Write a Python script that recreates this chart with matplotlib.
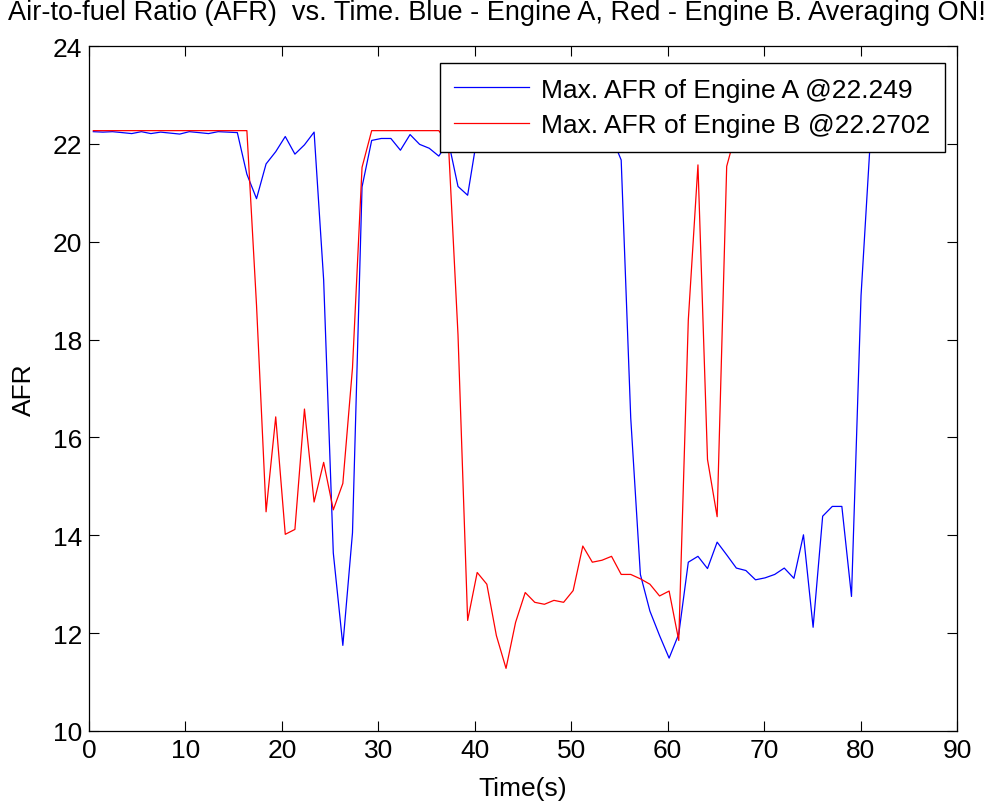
import numpy as np
import matplotlib
matplotlib.use("Agg")
import matplotlib.pyplot as plt

plt.rcParams['font.family'] = ['Liberation Sans', 'DejaVu Sans']

# sample times (s), roughly one sample per second
time_s = [0.45, 1.44, 2.44, 3.44, 4.43, 5.43, 6.42, 7.42, 8.41, 9.41,
          10.40, 11.40, 12.39, 13.39, 14.38, 15.38, 16.37, 17.37, 18.36, 19.36,
          20.35, 21.35, 22.34, 23.34, 24.33, 25.33, 26.32, 27.32, 28.31, 29.31,
          30.30, 31.30, 32.29, 33.29, 34.28, 35.28, 36.27, 37.27, 38.26, 39.26,
          40.25, 41.25, 42.24, 43.24, 44.23, 45.23, 46.22, 47.22, 48.21, 49.21,
          50.20, 51.20, 52.19, 53.19, 54.18, 55.18, 56.17, 57.17, 58.16, 59.16,
          60.15, 61.15, 62.14, 63.14, 64.13, 65.13, 66.12, 67.12, 68.11, 69.11,
          70.10, 71.10, 72.09, 73.09, 74.08, 75.08, 76.07, 77.07, 78.06, 79.06,
          80.05, 81.05]

# engine A air-to-fuel ratio
afr_a = [22.249, 22.24, 22.249, 22.23, 22.21, 22.249, 22.21, 22.24, 22.22, 22.20,
         22.249, 22.23, 22.21, 22.249, 22.24, 22.23, 21.38, 20.88, 21.59, 21.84,
         22.15, 21.79, 21.98, 22.24, 19.22, 13.64, 11.75, 14.05, 21.12, 22.07,
         22.11, 22.11, 21.87, 22.19, 21.99, 21.91, 21.75, 22.05, 21.13, 20.95,
         22.15, 22.20, 22.23, 22.21, 22.24, 22.19, 22.22, 22.249, 22.20, 22.23,
         22.18, 22.22, 22.24, 22.21, 22.15, 21.67, 16.40, 13.20, 12.45, 11.95,
         11.49, 11.98, 13.45, 13.57, 13.32, 13.86, 13.60, 13.33, 13.28, 13.09,
         13.13, 13.20, 13.33, 13.12, 14.01, 12.12, 14.39, 14.59, 14.59, 12.75,
         18.90, 22.20]

# engine B air-to-fuel ratio
afr_b = [22.2702] * 17 + [
         18.70, 14.48, 16.42, 14.02, 14.12, 16.58, 14.68, 15.49, 14.52, 15.06,
         17.42, 21.52] + [22.2702] * 8 + [
         22.00, 18.10, 12.26, 13.24, 13.00, 11.95, 11.28, 12.22, 12.83, 12.63,
         12.59, 12.67, 12.63, 12.87, 13.78, 13.45, 13.49, 13.57, 13.20, 13.20,
         13.11, 13.00, 12.76, 12.86, 11.85, 18.40, 21.57, 15.55, 14.38, 21.54] + [22.2702] * 15

x_ticks = np.arange(0, 91, 10)
y_ticks = np.arange(10, 25, 2)

fig = plt.figure(figsize=(9.93, 8.03), dpi=100)
ax = fig.add_axes([89 / 993, 1 - 732 / 803, (957 - 89) / 993, (732 - 47) / 803])

ax.plot(time_s, afr_a, color=(0, 0, 1), lw=0.9,
        label='Max. AFR of Engine A @%g' % max(afr_a))
ax.plot(time_s, afr_b, color=(1, 0, 0), lw=0.9,
        label='Max. AFR of Engine B @%g' % max(afr_b))

ax.set_xlim(0, 90)
ax.set_ylim(10, 24)
ax.set_xticks(x_ticks)
ax.set_yticks(y_ticks)
ax.tick_params(direction='in', top=True, right=True, length=7, width=0.8,
               labelsize=19, pad=5)
for s in ax.spines.values():
    s.set_linewidth(0.9)

ax.set_xlabel('Time(s)', fontsize=19, labelpad=10)
ax.set_ylabel('AFR', fontsize=19, labelpad=12)

fig.text(8 / 993, 1 - 13 / 803,
         'Air-to-fuel Ratio (AFR)  vs. Time. Blue - Engine A, Red - Engine B. Averaging ON!',
         fontsize=19.5, ha='left', va='center')

leg = ax.legend(loc='upper right', bbox_to_anchor=(945 / 993, 1 - 64 / 803),
                bbox_transform=fig.transFigure, borderaxespad=0, fontsize=19,
                handlelength=2.85, handletextpad=0.45, labelspacing=0.45,
                borderpad=0.55, fancybox=False, framealpha=1, edgecolor='black')
leg.get_frame().set_linewidth(1.0)

fig.savefig('out.png', dpi=100)
